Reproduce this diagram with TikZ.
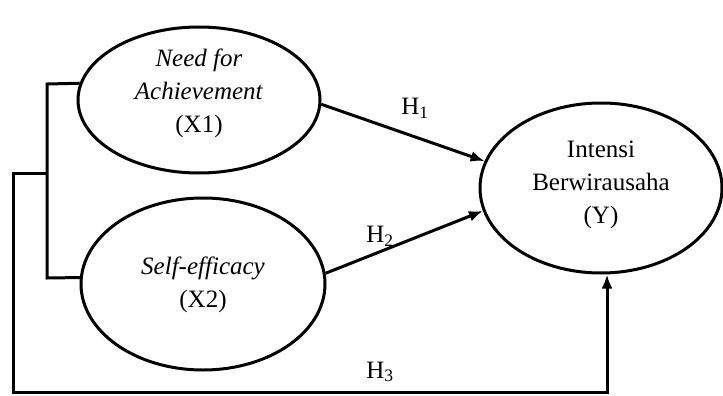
\documentclass[tikz,border=0pt]{standalone}
\usepackage{fontspec}
\setmainfont{Liberation Serif}
\usetikzlibrary{shapes,arrows.meta,calc}
\tikzstyle{line} = [draw, -{Latex[length=14pt,width=11pt]}, line width=3pt]
\tikzstyle{plain} = [draw, line width=3pt]
\tikzstyle{oval} = [ellipse, draw, line width=3pt, inner sep=0pt]
\tikzstyle{txt} = [align=center, font=\fontsize{25}{33}\selectfont]
\begin{document}
\begin{tikzpicture}[x=1pt,y=-1pt]
\useasboundingbox (0,0) rectangle (723,396);

\node [oval, minimum width=242pt, minimum height=146pt] (x1) at (199,100) {};
\node [txt] (x1text) at (199,93) {\textit{Need for}\\\textit{Achievement}\\(X1)};

\node [oval, minimum width=244pt, minimum height=172pt] (x2) at (203,284) {};
\node [txt] (x2text) at (203,285) {\textit{Self-efficacy}\\(X2)};

\node [oval, minimum width=242pt, minimum height=170pt] (y) at (601,188) {};
\node [txt] (ytext) at (601,185) {Intensi\\Berwirausaha\\(Y)};

\coordinate (top) at (47,84);
\coordinate (mid) at (47,173);
\coordinate (low) at (47,278);
\coordinate (left) at (13,173);
\coordinate (bottom) at (13,392);
\coordinate (corner) at (607,392);

\path [plain] (x1.172) -- (top) -- (low) -- (x2.177);
\path [line] (mid) -- (left) -- (bottom) -- (corner) -- (y.south -| corner);

\path [line] (x1.-2) -- (y.167);
\path [line] (x2.5) -- (y.191);

\node [txt] (h1) at (415,108) {H\textsubscript{1}};
\node [txt] (h2) at (380,236) {H\textsubscript{2}};
\node [txt] (h3) at (380,372) {H\textsubscript{3}};

\end{tikzpicture}
\end{document}
